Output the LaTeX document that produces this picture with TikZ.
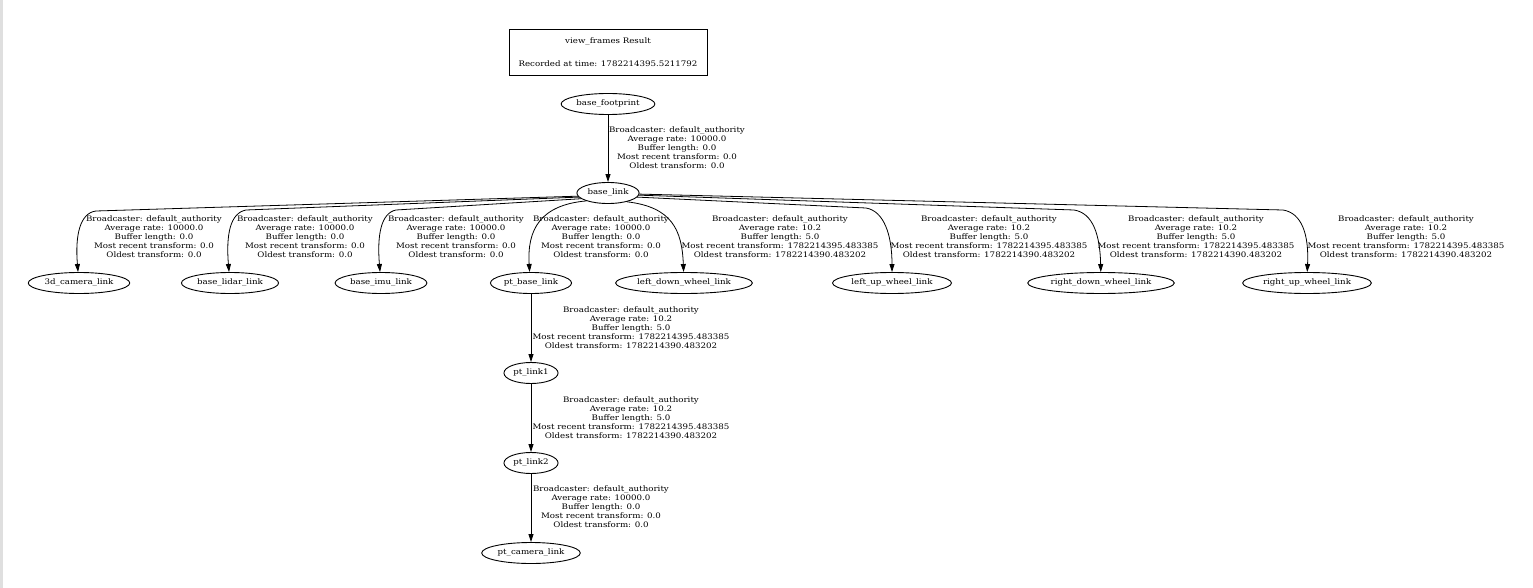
\documentclass[tikz,border=0pt]{standalone}
\usepackage{fontspec}
\setmainfont[FakeStretch=1.14]{DejaVu Serif}
\usetikzlibrary{shapes.geometric,arrows.meta}
\newcommand\lblfont{\fontsize{7.6}{9}\selectfont}
\begin{document}
\begin{tikzpicture}[x=1pt,y=-1pt,
  frame/.style={draw,ellipse,line width=0.9pt,minimum height=21pt,inner xsep=1.5pt,inner ysep=0pt,font=\lblfont},
  edge/.style={line width=0.8pt,-{Triangle[length=8pt,width=5pt]}},
  elabel/.style={align=center,font=\lblfont,inner sep=0pt},
  titlebox/.style={draw,line width=0.9pt,minimum width=198pt,minimum height=46pt,align=center,font=\lblfont}]
\fill[white] (0,0) rectangle (1533,588);
\fill[gray!25] (0,0) rectangle (3,588);
\useasboundingbox (0,0) rectangle (1533,588);

\node[titlebox] (title) at (608,52) {view\_frames Result\\[14pt]Recorded at time: 1782214395.5211792};

\node[frame] (bf) at (608,104) {base\_footprint};
\node[frame] (bl) at (608,193) {base\_link};
\node[frame] (cam) at (79,283) {3d\_camera\_link};
\node[frame] (lidar) at (230,283) {base\_lidar\_link};
\node[frame] (imu) at (381,283) {base\_imu\_link};
\node[frame] (ptb) at (531,283) {pt\_base\_link};
\node[frame] (ld) at (684,283) {left\_down\_wheel\_link};
\node[frame] (lu) at (892,283) {left\_up\_wheel\_link};
\node[frame] (rd) at (1101,283) {right\_down\_wheel\_link};
\node[frame] (ru) at (1307,283) {right\_up\_wheel\_link};
\node[frame] (pl1) at (531,373) {pt\_link1};
\node[frame] (pl2) at (531,463) {pt\_link2};
\node[frame] (pc) at (531,553) {pt\_camera\_link};

% edges
\draw[edge] (bf) -- (bl);
\draw[edge] (bl.186) -- (96,211) .. controls (80,213) and (75,235) .. (cam.95);
\draw[edge] (bl.188) -- (246,210) .. controls (230,213) and (226,235) .. (lidar.95);
\draw[edge] (bl.192) -- (396,210) .. controls (381,213) and (377,235) .. (imu.95);
\draw[edge] (bl.200) .. controls (540,205) and (527,230) .. (ptb.97);
\draw[edge] (bl.-25) .. controls (672,207) and (682,230) .. (ld.92);
\draw[edge] (bl.-8) -- (866,208) .. controls (884,211) and (892,235) .. (lu.90);
\draw[edge] (bl.-4) -- (1074,210) .. controls (1093,213) and (1100,235) .. (rd.91);
\draw[edge] (bl.-2) -- (1283,210) .. controls (1302,213) and (1309,235) .. (ru.89);
\draw[edge] (ptb) -- (pl1);
\draw[edge] (pl1) -- (pl2);
\draw[edge] (pl2) -- (pc);

% labels
\node[elabel] (l0) at (677,148) {Broadcaster: default\_authority\\Average rate: 10000.0\\Buffer length: 0.0\\Most recent transform: 0.0\\Oldest transform: 0.0};
\node[elabel] (l1) at (154,237) {Broadcaster: default\_authority\\Average rate: 10000.0\\Buffer length: 0.0\\Most recent transform: 0.0\\Oldest transform: 0.0};
\node[elabel] (l2) at (305,237) {Broadcaster: default\_authority\\Average rate: 10000.0\\Buffer length: 0.0\\Most recent transform: 0.0\\Oldest transform: 0.0};
\node[elabel] (l3) at (456,237) {Broadcaster: default\_authority\\Average rate: 10000.0\\Buffer length: 0.0\\Most recent transform: 0.0\\Oldest transform: 0.0};
\node[elabel] (l4) at (601,237) {Broadcaster: default\_authority\\Average rate: 10000.0\\Buffer length: 0.0\\Most recent transform: 0.0\\Oldest transform: 0.0};
\node[elabel] (l5) at (780,237) {Broadcaster: default\_authority\\Average rate: 10.2\\Buffer length: 5.0\\Most recent transform: 1782214395.483385\\Oldest transform: 1782214390.483202};
\node[elabel] (l6) at (989,237) {Broadcaster: default\_authority\\Average rate: 10.2\\Buffer length: 5.0\\Most recent transform: 1782214395.483385\\Oldest transform: 1782214390.483202};
\node[elabel] (l7) at (1196,237) {Broadcaster: default\_authority\\Average rate: 10.2\\Buffer length: 5.0\\Most recent transform: 1782214395.483385\\Oldest transform: 1782214390.483202};
\node[elabel] (l8) at (1406,237) {Broadcaster: default\_authority\\Average rate: 10.2\\Buffer length: 5.0\\Most recent transform: 1782214395.483385\\Oldest transform: 1782214390.483202};
\node[elabel] (l9) at (631,328) {Broadcaster: default\_authority\\Average rate: 10.2\\Buffer length: 5.0\\Most recent transform: 1782214395.483385\\Oldest transform: 1782214390.483202};
\node[elabel] (l10) at (631,418) {Broadcaster: default\_authority\\Average rate: 10.2\\Buffer length: 5.0\\Most recent transform: 1782214395.483385\\Oldest transform: 1782214390.483202};
\node[elabel] (l11) at (601,507) {Broadcaster: default\_authority\\Average rate: 10000.0\\Buffer length: 0.0\\Most recent transform: 0.0\\Oldest transform: 0.0};
\end{tikzpicture}
\end{document}
